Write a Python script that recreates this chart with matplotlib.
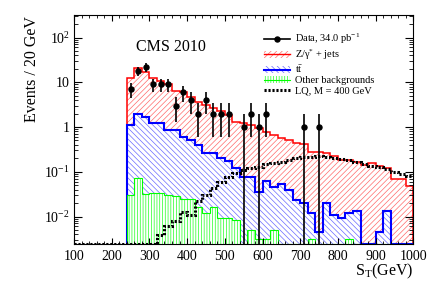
import numpy as np
import matplotlib
matplotlib.use("Agg")
import matplotlib.pyplot as plt
from matplotlib.ticker import FixedLocator, MultipleLocator, LogLocator, NullFormatter, FixedFormatter
from matplotlib.patches import Patch
from matplotlib.lines import Line2D

plt.rcParams["font.family"] = ["Liberation Serif", "DejaVu Serif"]
plt.rcParams["mathtext.fontset"] = "custom"
plt.rcParams["mathtext.rm"] = "Liberation Serif"
plt.rcParams["mathtext.it"] = "Liberation Serif:italic"
plt.rcParams["hatch.linewidth"] = 0.5

# bins of 20 GeV, lower edges 240 ... 980
bin_edges = np.arange(240, 1001, 20)

# visible stack heights (Z+jets on top of ttbar on top of other)
h_total = [12.3, 20.5, 16.7, 12.3, 10.7, 9.0, 6.4, 6.2, 4.75, 3.7,
           3.1, 2.7, 2.3, 1.85, 1.32, 1.21, 1.1, 0.97, 0.76, 0.66,
           0.56, 0.50, 0.45, 0.41, 0.28, 0.27, 0.26, 0.225, 0.18, 0.18,
           0.168, 0.14, 0.16, 0.135, 0.12, 0.07, 0.07, 0.047]
h_ttbar = [1.1, 1.92, 1.70, 1.25, 1.25, 0.86, 0.86, 0.61, 0.51, 0.40,
           0.26, 0.26, 0.20, 0.175, 0.12, 0.078, 0.078, 0.035, 0.063, 0.045,
           0.052, 0.04, 0.023, 0.0196, 0.012, 0.0046, 0.0196, 0.011, 0.0091, 0.0118,
           0.0135, 0, 0, 0.0046, 0.0135, 0, 0, 0]
h_other = [0.031, 0.071, 0.032, 0.034, 0.034, 0.030, 0.029, 0.024, 0.025, 0.016,
           0.012, 0.016, 0.0095, 0.0095, 0.0083, 0, 0.005, 0.0032, 0.0032, 0.005,
           0, 0, 0, 0, 0.0032, 0, 0, 0, 0, 0.0032,
           0, 0, 0, 0, 0, 0, 0, 0]
data_counts = [7, 18, 22, 9, 9, 9, 3, 6, 4, 2,
               4, 2, 2, 2, 0, 1, 2, 1, 2, 0,
               0, 0, 0, 1, 0, 1, 0, 0, 0, 0,
               0, 0, 0, 0, 0, 0, 0, 0]

# LQ signal, lower edges 100 ... 980
lq_edges = np.arange(100, 1001, 20)
h_lq = [0, 0, 0, 0, 0, 0, 0, 0, 0, 0, 0,
        0.0039, 0.006, 0.0078, 0.0125, 0.011, 0.022, 0.030, 0.043, 0.06, 0.075,
        0.092, 0.11, 0.12, 0.13, 0.146, 0.155, 0.168, 0.18, 0.20, 0.21,
        0.217, 0.225, 0.217, 0.206, 0.193, 0.18, 0.168, 0.146, 0.136, 0.13,
        0.115, 0.097, 0.088, 0.08]

ymin, ymax = 0.00243, 324

fig = plt.figure(figsize=(4.36, 2.95), dpi=100)
ax = fig.add_axes([74 / 436, 1 - 244 / 295, 339.3 / 436, 229.3 / 295])
ax.set_yscale("log")

def clip(v):
    return np.maximum(np.asarray(v, dtype=float), ymin)

green = "#00ff00"
# (values, line colour, hatch colour, hatch, line width)
hists = [(h_total, "red", "#ff6a6a", "//////", 1.1),
         (h_ttbar, "blue", "#6a6aff", "\\\\\\\\\\\\", 1.5),
         (h_other, green, "#22ff22", "||||||", 0.8)]
for vals, col, hcol, hatch, lw in hists:
    ax.stairs(clip(vals), bin_edges, baseline=ymin, fill=True, facecolor="white",
              edgecolor=hcol, hatch=hatch, linewidth=0)
for vals, col, hcol, hatch, lw in hists:
    ax.stairs(clip(vals), bin_edges, baseline=ymin, color=col, linewidth=lw)

ax.stairs(clip(h_lq), lq_edges, baseline=None, color="black", linewidth=2.2,
          linestyle=(0, (0.7, 0.6)))

counts = np.array(data_counts, dtype=float)
centers = bin_edges[:-1] + 10
m = counts > 0
err = np.sqrt(counts[m])
lower = np.minimum(err, counts[m] - 1e-5)
ax.errorbar(centers[m], counts[m], yerr=[lower, err], fmt="o", color="black",
            ms=3.6, elinewidth=1.2, capsize=0)

ax.set_xlim(100, 1000)
ax.set_ylim(ymin, ymax)
ax.xaxis.set_major_locator(MultipleLocator(100))
ax.xaxis.set_minor_locator(MultipleLocator(20))
ax.yaxis.set_major_locator(FixedLocator([1e-2, 1e-1, 1, 10, 100]))
ax.yaxis.set_major_formatter(FixedFormatter(["$10^{-2}$", "$10^{-1}$", "1", "10", "$10^{2}$"]))
ax.yaxis.set_minor_locator(LogLocator(base=10, subs=np.arange(2, 10)))
ax.yaxis.set_minor_formatter(NullFormatter())
ax.tick_params(which="both", direction="in", top=True, right=True, labelsize=10)
ax.tick_params(axis="y", which="major", length=6, pad=3)
ax.tick_params(axis="y", which="minor", length=3)
ax.tick_params(axis="x", which="major", length=4.5, pad=4)
ax.tick_params(axis="x", which="minor", length=2.3)

fig.text(32.5 / 436, 1 - 69 / 295, "Events / 20 GeV", rotation=90,
         ha="center", va="center", fontsize=11.5)
fig.text(413 / 436, 1 - 275 / 295, r"$\mathrm{S_{T}}$(GeV)", ha="right",
         va="baseline", fontsize=11.5)
ax.text(0.183, 0.84, "CMS 2010", transform=ax.transAxes, fontsize=11.5)

handles = [Line2D([], [], color="black", marker="o", ms=3.6, lw=1.2),
           (Patch(facecolor="white", edgecolor="#ff6a6a", hatch="//////", lw=0),
            Line2D([], [], color="red", lw=1)),
           (Patch(facecolor="white", edgecolor="#6a6aff", hatch="\\\\\\\\\\\\", lw=0),
            Line2D([], [], color="blue", lw=1.5)),
           (Patch(facecolor="white", edgecolor="#22ff22", hatch="||||||", lw=0),
            Line2D([], [], color=green, lw=0.8)),
           Line2D([], [], color="black", lw=2.2, linestyle=(0, (0.7, 0.6)))]
labels = ["Data, 34.0 pb$^{-1}$", r"Z/γ$^{*}$ + jets", r"t$\bar{\mathrm{t}}$",
          "Other backgrounds", "LQ, M = 400 GeV"]
ax.legend(handles, labels, loc="upper left", bbox_to_anchor=(0.56, 0.925),
          frameon=False, fontsize=7.5, handlelength=2.5, handleheight=0.6,
          handletextpad=0.5, labelspacing=0.12, borderpad=0, borderaxespad=0)

fig.savefig("out.png", dpi=100)
